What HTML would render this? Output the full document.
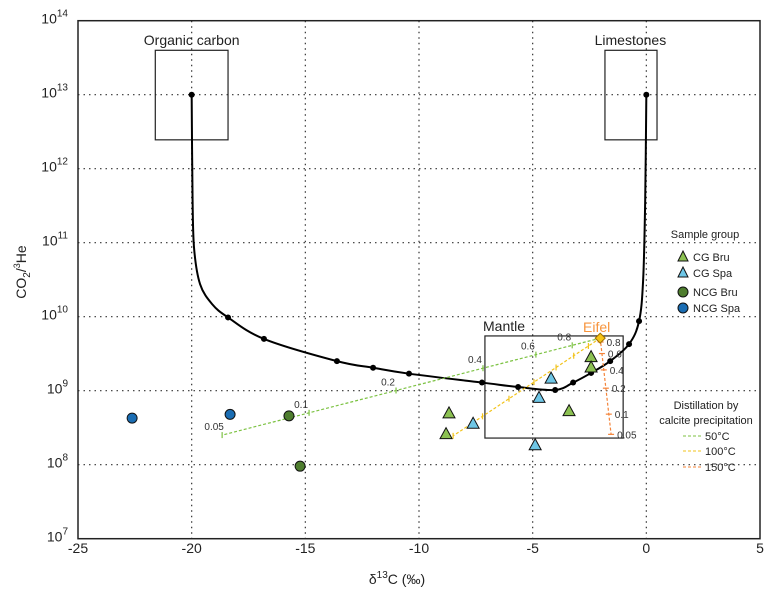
<!DOCTYPE html>
<html><head><meta charset="utf-8"><style>
html,body{margin:0;padding:0;background:#fff;}
svg{display:block;font-family:"Liberation Sans","DejaVu Sans",sans-serif;}
</style></head><body>
<svg id="chart" width="767" height="596" viewBox="0 0 767 596"></svg>
<script>
const xTicks=[-25,-20,-15,-10,-5,0,5];
const yTicks=[7,8,9,10,11,12,13,14];
// mixing curve markers [d13C, log10(CO2/3He)]
const curveMarkersX=[-20,-18.4,-16.82,-13.61,-12.02,-10.44,-7.23,-5.64,-4.01,-3.22,-2.43,-1.59,-0.76,-0.32,0];
const curveMarkersY=[13,9.99,9.70,9.40,9.31,9.23,9.11,9.05,9.01,9.11,9.24,9.40,9.63,9.94,13];
// full curve path
const curveX=[-20,-19.96,-19.89,-19.63,-19.1,-18.4,-16.82,-13.61,-12.02,-10.44,-7.23,-5.64,-4.01,-3.22,-2.43,-1.59,-0.76,-0.32,-0.14,-0.05,0];
const curveY=[13,11.58,10.91,10.44,10.17,9.99,9.70,9.40,9.31,9.23,9.11,9.05,9.01,9.11,9.24,9.40,9.63,9.94,10.5,11.58,13];
const cgBruX=[-8.68,-8.81,-3.40,-2.43,-2.43];
const cgBruY=[8.70,8.42,8.73,9.46,9.32];
const cgSpaX=[-7.62,-4.72,-4.19,-4.89];
const cgSpaY=[8.56,8.91,9.17,8.27];
const ncgBruX=[-15.72,-15.23];
const ncgBruY=[8.66,7.98];
const ncgSpaX=[-22.62,-18.31];
const ncgSpaY=[8.63,8.68];
const eifel=[-2.03,9.71];
const dist50End=[-18.66,8.40];
const dist100End=[-8.5,8.39];
const dist150End=[-1.55,8.41];
const dist50Ticks=[0.074,0.17,0.31,0.54,0.77,1];
const dist50Labels=["0.8","0.6","0.4","0.2","0.1","0.05"];
const dist100Ticks=[0.08,0.18,0.3,0.45,0.62,0.8,1];
const dist150Ticks=[0.04,0.16,0.33,0.52,0.79,1];
const dist150Labels=["0.8","0.6","0.4","0.2","0.1","0.05"];

const L=78,R=760,T=20.7,B=538.7;
const X=v=>L+(v+25)*(R-L)/30;
const Y=l=>T+(14-l)*(B-T)/7;
const svg=document.getElementById('chart');
const NS='http://www.w3.org/2000/svg';
function mk(tag,attrs,parent){const e=document.createElementNS(NS,tag);for(const k in attrs)e.setAttribute(k,attrs[k]);(parent||svg).appendChild(e);return e;}
function txt(s,x,y,attrs){const e=mk('text',Object.assign({x:x,y:y,'font-size':13,fill:'#222'},attrs||{}));e.textContent=s;return e;}

// grid
xTicks.slice(1,-1).forEach(v=>{const g=mk('line',{x1:X(v),x2:X(v),y1:T,y2:B,stroke:'#333','stroke-width':1.2,'stroke-dasharray':'1.5 4'});

});
yTicks.slice(1,-1).forEach(v=>{const g=mk('line',{x1:L,x2:R,y1:Y(v),y2:Y(v),stroke:'#333','stroke-width':1.2,'stroke-dasharray':'1.5 4'});

});
const fr=mk('rect',{x:L,y:T,width:R-L,height:B-T,fill:'none',stroke:'#222','stroke-width':1.5});


// tick labels
xTicks.forEach(v=>{const t=txt(String(v),X(v),553,{'text-anchor':'middle','font-size':14});

});
yTicks.forEach(v=>{const t=mk('text',{x:68,y:Y(v)+3,'text-anchor':'end','font-size':14,fill:'#222'});
t.innerHTML='10<tspan dy="-7" font-size="10">'+v+'</tspan>';

});
const xt=mk('text',{x:397,y:584,'text-anchor':'middle','font-size':14,fill:'#222'});
xt.innerHTML='δ<tspan dy="-6" font-size="10">13</tspan><tspan dy="6">C (‰)</tspan>';


const yt=mk('text',{x:0,y:0,'text-anchor':'middle','font-size':14,fill:'#222',transform:'translate(26,272) rotate(-90)'});
yt.innerHTML='CO<tspan dy="4" font-size="10">2</tspan><tspan dy="-4">/</tspan><tspan dy="-6" font-size="9">3</tspan><tspan dy="6">He</tspan>';



// end-member boxes
function box(x0,x1,l0,l1,name){const b=mk('rect',{x:X(x0),y:Y(l1),width:X(x1)-X(x0),height:Y(l0)-Y(l1),fill:'none',stroke:'#222','stroke-width':1.2});

}
box(-21.6,-18.4,12.39,13.6,'organic-carbon-box');
box(-1.82,0.47,12.39,13.6,'limestones-box');
box(-7.1,-1.02,8.36,9.74,'mantle-box');
let t1=txt('Organic carbon',X(-20),45,{'text-anchor':'middle','font-size':14});

let t2=txt('Limestones',X(-0.7),45,{'text-anchor':'middle','font-size':14});

let t3=txt('Mantle',483,331,{'font-size':14});


// curve (Catmull-Rom)
const pts=curveX.map((v,i)=>[X(v),Y(curveY[i])]);
let d='M'+pts[0][0]+','+pts[0][1];
for(let i=0;i<pts.length-1;i++){const p0=pts[Math.max(0,i-1)],p1=pts[i],p2=pts[i+1],p3=pts[Math.min(pts.length-1,i+2)];
d+=' C'+(p1[0]+(p2[0]-p0[0])/6)+','+(p1[1]+(p2[1]-p0[1])/6)+' '+(p2[0]-(p3[0]-p1[0])/6)+','+(p2[1]-(p3[1]-p1[1])/6)+' '+p2[0]+','+p2[1];}
const cp=mk('path',{d:d,fill:'none',stroke:'#000','stroke-width':2});


curveMarkersX.forEach((v,i)=>{const c=mk('circle',{cx:X(v),cy:Y(curveMarkersY[i]),r:3,fill:'#000'});

});

// distillation lines
function dline(end,color,ticks,labels,name,labDx,labDy,vertTicks){
const x0=X(eifel[0]),y0=Y(eifel[1]),x1=X(end[0]),y1=Y(end[1]);
const ln=mk('line',{x1:x0,y1:y0,x2:x1,y2:y1,stroke:color,'stroke-width':1.2,'stroke-dasharray':'3 2'});


ticks.forEach((t,i)=>{const x=x0+(x1-x0)*t,y=y0+(y1-y0)*t;
const tk=vertTicks?mk('line',{x1:x-3,x2:x+3,y1:y,y2:y,stroke:color,'stroke-width':1.2}):mk('line',{x1:x,x2:x,y1:y-3,y2:y+3,stroke:color,'stroke-width':1.2});


if(labels){const lb=txt(labels[i],x+labDx,y+labDy,{'font-size':10,fill:'#333','text-anchor':vertTicks?'start':'middle'});

}});}
dline(dist50End,'#7cc242',dist50Ticks,dist50Labels,'distillation-50c-line',-8,-5,false);
dline(dist100End,'#f2c31b',dist100Ticks,null,'distillation-100c-line',0,0,false);
dline(dist150End,'#f4843a',dist150Ticks,['0.8','0.6','0.4','0.2','0.1','0.05'],'distillation-150c-line',6,4,true);

// samples
function tri(x,y,fill,name){const px=X(x),py=Y(y);const p=mk('polygon',{points:(px)+','+(py-6)+' '+(px-6)+','+(py+5)+' '+(px+6)+','+(py+5),fill:fill,stroke:'#111','stroke-width':1});

}
function circ(x,y,fill,name){const c=mk('circle',{cx:X(x),cy:Y(y),r:5,fill:fill,stroke:'#111','stroke-width':1});

}
cgBruX.forEach((v,i)=>tri(v,cgBruY[i],'#8cc152','cg-bru-point'));
cgSpaX.forEach((v,i)=>tri(v,cgSpaY[i],'#6ec6e6','cg-spa-point'));
ncgBruX.forEach((v,i)=>circ(v,ncgBruY[i],'#4e7d2e','ncg-bru-point'));
ncgSpaX.forEach((v,i)=>circ(v,ncgSpaY[i],'#1a6db3','ncg-spa-point'));
const ex=X(eifel[0]),ey=Y(eifel[1]);
const dm=mk('polygon',{points:ex+','+(ey-5)+' '+(ex+5)+','+ey+' '+ex+','+(ey+5)+' '+(ex-5)+','+ey,fill:'#f5c518',stroke:'#a07000','stroke-width':1});


const el=txt('Eifel',583,332,{'font-size':14,fill:'#f7943c'});


</script>
<svg width="767" height="596" style="position:absolute;left:0;top:0;font-family:'Liberation Sans',sans-serif">
<text x="705" y="238" font-size="11" text-anchor="middle" fill="#222">Sample group</text>
<g><polygon points="683,251 678,261 688,261" fill="#8cc152" stroke="#111"/><text x="693" y="261" font-size="11" fill="#222">CG Bru</text></g>
<g><polygon points="683,267 678,277 688,277" fill="#6ec6e6" stroke="#111"/><text x="693" y="277" font-size="11" fill="#222">CG Spa</text></g>
<g><circle cx="683" cy="292" r="5" fill="#4e7d2e" stroke="#111"/><text x="693" y="296" font-size="11" fill="#222">NCG Bru</text></g>
<g><circle cx="683" cy="308" r="5" fill="#1a6db3" stroke="#111"/><text x="693" y="312" font-size="11" fill="#222">NCG Spa</text></g>
<text x="706" y="409" font-size="11" text-anchor="middle" fill="#222">Distillation by</text>
<text x="706" y="424" font-size="11" text-anchor="middle" fill="#222">calcite precipitation</text>
<g><line x1="683" x2="703" y1="436" y2="436" stroke="#7cc242" stroke-dasharray="3 2"/><text x="705" y="440" font-size="11" fill="#222">50°C</text></g>
<g><line x1="683" x2="703" y1="451" y2="451" stroke="#f2c31b" stroke-dasharray="3 2"/><text x="705" y="455" font-size="11" fill="#222">100°C</text></g>
<g><line x1="683" x2="703" y1="467" y2="467" stroke="#f4843a" stroke-dasharray="3 2"/><text x="705" y="471" font-size="11" fill="#222">150°C</text></g>
</svg>
</body></html>
